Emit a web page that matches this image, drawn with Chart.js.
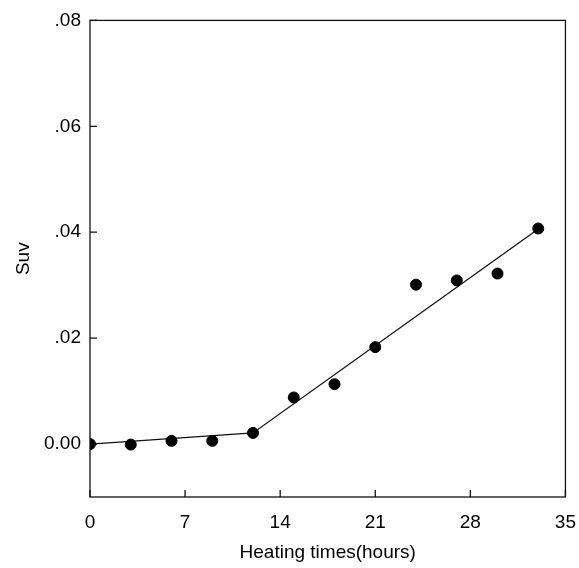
<!DOCTYPE html>
<html>
<head>
<meta charset="utf-8">
<script src="https://cdn.jsdelivr.net/npm/chart.js@4/dist/chart.umd.min.js"></script>
<style>
  html, body { margin: 0; padding: 0; background: #fff; }
  #wrap { width: 579px; height: 568px; }
</style>
</head>
<body>
<div id="wrap"><canvas id="suvChart" width="579" height="568"></canvas></div>
<script>
// measured points
const hours = [0, 3, 6, 9, 12, 15, 18, 21, 24, 27, 30, 33];
const suv = [0.0000, -0.0001, 0.0006, 0.0006, 0.0021, 0.0088, 0.0113, 0.0183, 0.0301, 0.0309, 0.0322, 0.0407];

// fitted broken line
const fitHours = [0, 12, 33];
const fitSuv = [0.0000, 0.0021, 0.0406];

const xTicks = [0, 7, 14, 21, 28, 35];
const yTicks = [0, 0.02, 0.04, 0.06, 0.08];

const font = { family: 'Liberation Sans, Arial, sans-serif', size: 19 };

// box around plot + inward tick marks
const framePlugin = {
    id: 'frame',
    afterDraw(chart) {
        const c = chart.ctx, a = chart.chartArea;
        const xs = chart.scales.x, ys = chart.scales.y;
        c.save();
        c.strokeStyle = '#111';
        c.lineWidth = 1.3;
        c.strokeRect(a.left, a.top, a.right - a.left, a.bottom - a.top);
        c.beginPath();
        xTicks.forEach(function (t) {
            const px = xs.getPixelForValue(t);
            c.moveTo(px, a.bottom);
            c.lineTo(px, a.bottom - 7);
        });
        yTicks.forEach(function (t) {
            const py = ys.getPixelForValue(t);
            c.moveTo(a.left, py);
            c.lineTo(a.left + 7, py);
        });
        c.stroke();
        c.restore();
    }
};

const ctx = document.getElementById('suvChart').getContext('2d');
new Chart(ctx, {
    type: 'scatter',
    data: {
        datasets: [{
            label: 'Suv',
            data: hours.map((h, i) => ({ x: h, y: suv[i] })),
            backgroundColor: '#000',
            borderColor: '#000',
            pointRadius: 5.5,
            pointHoverRadius: 5.5
        }, {
            label: 'fit',
            type: 'line',
            data: fitHours.map((h, i) => ({ x: h, y: fitSuv[i] })),
            borderColor: '#111',
            borderWidth: 1.3,
            pointRadius: 0,
            fill: false,
            tension: 0
        }]
    },
    options: {
        responsive: false,
        animation: false,
        layout: { padding: { left: 0, right: 0, top: 18, bottom: 0 } },
        plugins: { legend: { display: false }, tooltip: { enabled: false } },
        scales: {
            x: {
                type: 'linear',
                min: 0,
                max: 35,
                afterBuildTicks(s) { s.ticks = xTicks.map(v => ({ value: v })); },
                afterFit(s) { s.height = 71; },
                grid: { display: false, drawTicks: true, tickLength: 11 },
                border: { display: false },
                ticks: { color: '#000', font: font, padding: 3, maxRotation: 0 },
                title: { display: true, text: 'Heating times(hours)', color: '#000', font: font, padding: { top: 7 } }
            },
            y: {
                type: 'linear',
                min: -0.01,
                max: 0.08,
                afterBuildTicks(s) { s.ticks = yTicks.map(v => ({ value: v })); },
                afterFit(s) { s.width = 90; },
                grid: { display: false, drawTicks: false },
                border: { display: false },
                ticks: {
                    color: '#000',
                    font: font,
                    padding: 9,
                    callback: v => v === 0 ? '0.00' : v.toFixed(2).replace(/^0/, '')
                },
                title: { display: true, text: 'Suv', color: '#000', font: font, padding: { top: 12, bottom: 0 } }
            }
        }
    },
    plugins: [framePlugin]
});
</script>
</body>
</html>
